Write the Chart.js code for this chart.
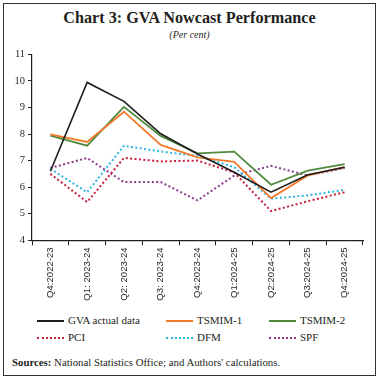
<!DOCTYPE html>
<html>
<head>
<meta charset="utf-8">
<script src="https://cdn.jsdelivr.net/npm/chart.js@4"></script>
<style>
  html, body { margin: 0; padding: 0; background: #fff; }
  #wrap { position: relative; width: 379px; height: 380px; overflow: hidden; }
  #frame { position: absolute; left: 3px; top: 3px; width: 371px; height: 371px; border: 1.5px solid #333; }
  #title { position: absolute; left: 0; width: 379px; top: 9px; text-align: center;
           font: bold 16.2px "Liberation Serif", serif; color: #231f20; }
  #sub { position: absolute; left: 0; width: 379px; top: 29px; text-align: center;
         font: italic 10px "Liberation Serif", serif; color: #231f20; }
  #box { position: absolute; left: 0; top: 45px; width: 379px; height: 260px; }
  .lg { position: absolute; font: 11px "Liberation Serif", serif; color: #231f20; white-space: nowrap; }
  .sw { position: absolute; width: 27px; height: 0; }
  #src { position: absolute; left: 12px; top: 356px; font: 10.8px "Liberation Serif", serif; color: #231f20; }
</style>
</head>
<body>
<div id="wrap">
  <div id="frame"></div>
  <div id="title">Chart 3: GVA Nowcast Performance</div>
  <div id="sub">(Per cent)</div>
  <div id="box"><canvas id="c"></canvas></div>
  <div id="legend"></div>
  <div id="src"><b>Sources:</b> National Statistics Office; and Authors' calculations.</div>
</div>
<script>
// ============================
// Data
// ============================
const quarters = ["Q4:2022-23", "Q1: 2023-24", "Q2: 2023-24", "Q3: 2023-24", "Q4:2023-24",
                  "Q1:2024-25", "Q2:2024-25", "Q3:2024-25", "Q4:2024-25"];

const gvaActual = [6.6, 9.94, 9.23, 8.01, 7.25, 6.56, 5.81, 6.47, 6.75];
const tsmim1    = [7.99, 7.7, 8.84, 7.59, 7.12, 6.95, 5.59, 6.44, 6.75];
const tsmim2    = [7.94, 7.56, 9.02, 7.93, 7.27, 7.34, 6.09, 6.62, 6.87];
const pci       = [6.5, 5.44, 7.1, 6.97, 7.0, 6.55, 5.1, 5.47, 5.81];
const dfm       = [6.69, 5.81, 7.56, 7.34, 7.18, 6.75, 5.57, 5.69, 5.9];
const spf       = [6.72, 7.1, 6.19, 6.19, 5.5, 6.44, 6.8, 6.44, 6.72];

const yTicks = [4, 5, 6, 7, 8, 9, 10, 11];

// ============================
// Series styling
// ============================
const series = [
    { label: "GVA actual data", data: gvaActual, color: "#1d1d1b", width: 1.6, dotted: false },
    { label: "TSMIM-1", data: tsmim1, color: "#f37a2a", width: 1.8, dotted: false },
    { label: "TSMIM-2", data: tsmim2, color: "#4f8a3c", width: 1.8, dotted: false },
    { label: "PCI", data: pci, color: "#c81f3f", width: 2, dotted: true },
    { label: "DFM", data: dfm, color: "#2fb4e6", width: 2, dotted: true },
    { label: "SPF", data: spf, color: "#8c3a8e", width: 2, dotted: true },
];

// legend slots (3 columns x 2 rows)
const legendCols = [37, 166, 269];
const legendRows = [321, 338];

function buildLegend() {
    const host = document.getElementById("legend");
    series.forEach((s, i) => {
        const col = i % 3, row = Math.floor(i / 3);
        const sw = document.createElement("div");
        sw.className = "sw";
        sw.style.left = legendCols[col] + "px";
        sw.style.top = (legendRows[row] - 1) + "px";
        sw.style.borderTop = s.dotted ? `2px dotted ${s.color}` : `2.5px solid ${s.color}`;
        host.appendChild(sw);

        const t = document.createElement("div");
        t.className = "lg";
        t.textContent = s.label;
        t.style.left = (legendCols[col] + 31) + "px";
        t.style.top = (legendRows[row] - 7) + "px";
        host.appendChild(t);
    });
}

const ctx = document.getElementById("c").getContext("2d");
new Chart(ctx, {
    type: "line",
    data: {
        labels: quarters,
        datasets: series.map(s => ({
            label: s.label,
            data: s.data,
            borderColor: s.color,
            backgroundColor: s.color,
            borderWidth: s.width,
            borderDash: s.dotted ? [2, 2.4] : [],
            pointRadius: 0,
            tension: 0,
            fill: false
        }))
    },
    options: {
        responsive: true,
        maintainAspectRatio: false,
        animation: false,
        layout: { padding: { top: 7.5, right: 16, bottom: 0, left: 0 } },
        plugins: { legend: { display: false }, tooltip: { enabled: false } },
        scales: {
            x: {
                offset: true,
                grid: { offset: true, drawOnChartArea: false, drawTicks: true, tickLength: 5, tickColor: "#231f20" },
                border: { color: "#231f20", width: 1.2 },
                ticks: {
                    autoSkip: false, minRotation: 90, maxRotation: 90, padding: 2,
                    color: "#231f20", font: { family: "Liberation Sans", size: 9.6 }
                },
                afterFit(scale) { scale.height = 64.7; }
            },
            y: {
                min: 4, max: 11,
                afterBuildTicks(scale) { scale.ticks = yTicks.map(v => ({ value: v })); },
                grid: { drawOnChartArea: false, tickLength: 4, tickColor: "#231f20" },
                border: { color: "#231f20", width: 1.2 },
                ticks: {
                    padding: 3, color: "#231f20",
                    font: { family: "Liberation Serif", size: 10.5 }
                },
                afterFit(scale) { scale.width = 32; }
            }
        }
    }
});

buildLegend();
</script>
</body>
</html>
